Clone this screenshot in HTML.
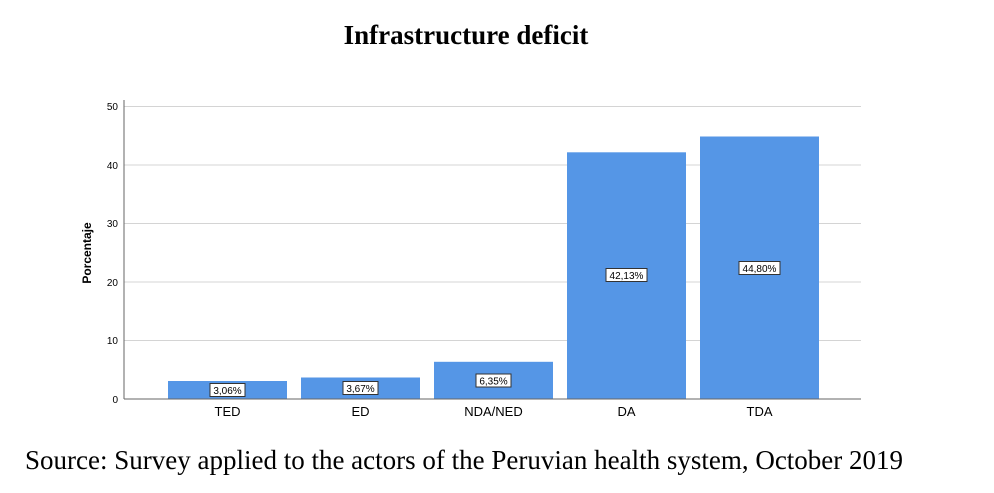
<!DOCTYPE html><html><head><style>body{margin:0;background:#fff;width:994px;height:488px;overflow:hidden}</style></head><body>
<svg width="994" height="488" xmlns="http://www.w3.org/2000/svg">
<text x="466" y="44" text-anchor="middle" font-family="Liberation Serif" font-weight="bold" font-size="27">Infrastructure deficit</text>
<g stroke="#d4d4d4" stroke-width="1">
<line x1="124" x2="861" y1="106.5" y2="106.5"/><line x1="124" x2="861" y1="165" y2="165"/><line x1="124" x2="861" y1="223.5" y2="223.5"/><line x1="124" x2="861" y1="282" y2="282"/><line x1="124" x2="861" y1="340.5" y2="340.5"/>
</g>
<g font-family="Liberation Sans" font-size="10" text-anchor="end" fill="#000">
<text x="118" y="110">50</text><text x="118" y="169">40</text><text x="118" y="227">30</text><text x="118" y="286">20</text><text x="118" y="344">10</text><text x="118" y="403">0</text></g>
<text transform="translate(91,253) rotate(-90)" text-anchor="middle" font-family="Liberation Sans" font-weight="bold" font-size="12">Porcentaje</text>
<g fill="#5596e6">
<rect x="168" y="381" width="119" height="18"/><rect x="301" y="377.5" width="119" height="21.5"/><rect x="434" y="361.8" width="119" height="37.2"/><rect x="567" y="152.3" width="119" height="246.7"/><rect x="700" y="136.5" width="119" height="262.5"/></g>
<line x1="124" x2="861" y1="399" y2="399" stroke="#666"/><line x1="124" x2="124" y1="100" y2="399" stroke="#666"/>
<g font-family="Liberation Sans" font-size="10" text-anchor="middle">
<rect x="210" y="383.5" width="35" height="13" fill="#fff" stroke="#333"/><text x="227.5" y="394">3,06%</text>
<rect x="343" y="381.5" width="35" height="13" fill="#fff" stroke="#333"/><text x="360.5" y="392">3,67%</text>
<rect x="476" y="374" width="35" height="13" fill="#fff" stroke="#333"/><text x="493.5" y="384.5">6,35%</text>
<rect x="606" y="268.5" width="41" height="13" fill="#fff" stroke="#333"/><text x="626.5" y="279">42,13%</text>
<rect x="739" y="261.5" width="41" height="13" fill="#fff" stroke="#333"/><text x="759.5" y="272">44,80%</text></g>
<g font-family="Liberation Sans" font-size="13" text-anchor="middle">
<text x="227.5" y="416">TED</text><text x="360.5" y="416">ED</text><text x="493.5" y="416">NDA/NED</text><text x="626.5" y="416">DA</text><text x="759.5" y="416">TDA</text></g>
<text x="25" y="469" font-family="Liberation Serif" font-size="27">Source: Survey applied to the actors of the Peruvian health system, October 2019</text>
</svg></body></html>
